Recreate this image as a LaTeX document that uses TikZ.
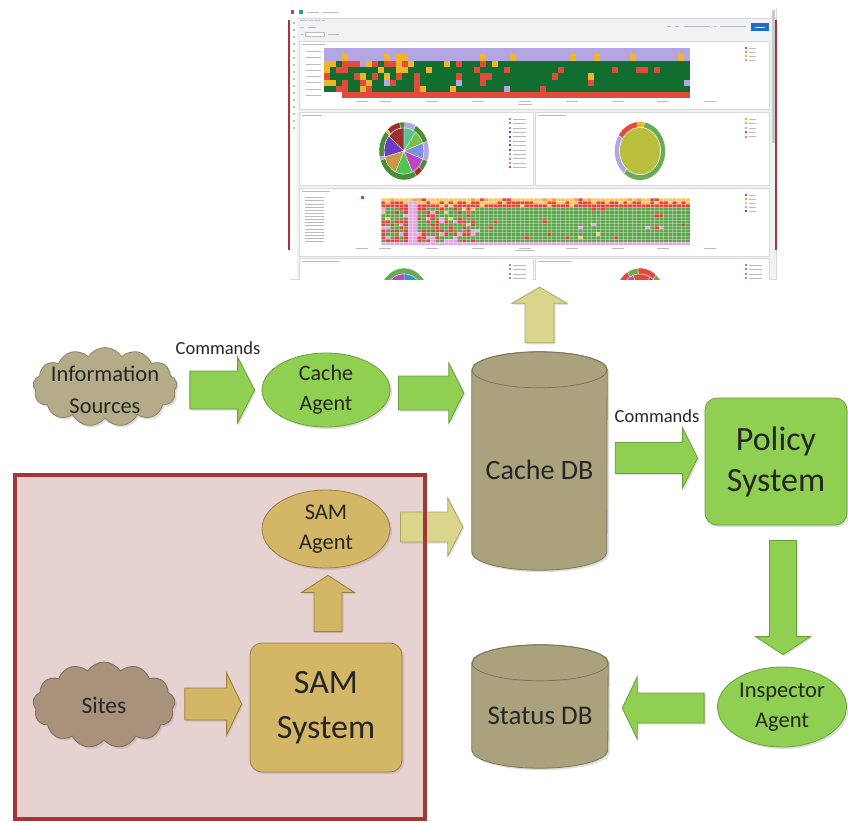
\documentclass[tikz,border=0pt]{standalone}
\usepackage{fontspec}
\setmainfont{Carlito}
\usetikzlibrary{shapes.symbols,shapes.geometric,calc,shadows}

\definecolor{gfill}{HTML}{8FCF52}
\definecolor{gline}{HTML}{6E9E3E}
\definecolor{cylfill}{HTML}{A9A27D}
\definecolor{cylline}{HTML}{7C7559}
\definecolor{infofill}{HTML}{B4AC88}
\definecolor{infoline}{HTML}{8A8266}
\definecolor{sitesfill}{HTML}{A8927C}
\definecolor{sitesline}{HTML}{7E6B5A}
\definecolor{samfill}{HTML}{D3B666}
\definecolor{samline}{HTML}{9A8042}
\definecolor{palefill}{HTML}{D9D68C}
\definecolor{paleline}{HTML}{A9A663}
\definecolor{pinkbg}{HTML}{E7D2D2}
\definecolor{redbox}{HTML}{A33737}
\definecolor{txt}{HTML}{262626}
\definecolor{dashbg}{HTML}{F1F2F4}
\definecolor{dashedge}{HTML}{D8D9DC}
\definecolor{txtgray}{HTML}{B8BBC0}
\definecolor{kibred}{HTML}{D6336C}
\definecolor{kibteal}{HTML}{20A39E}
\definecolor{kibblue}{HTML}{1E6EC8}
\definecolor{scrollc}{HTML}{C9CACC}
\definecolor{hlav}{HTML}{B3A6E3}
\definecolor{hdg}{HTML}{116E2F}
\definecolor{hred}{HTML}{E24B3B}
\definecolor{hyel}{HTML}{F0B429}
\definecolor{horg}{HTML}{F08C3A}
\definecolor{h2green}{HTML}{5EA64C}
\definecolor{h2red}{HTML}{E0473A}
\definecolor{h2yel}{HTML}{F5C76A}
\definecolor{h2org}{HTML}{F0A050}
\definecolor{h2pink}{HTML}{E7A3E6}
\definecolor{pteal}{HTML}{55C490}
\definecolor{plgreen}{HTML}{78C24A}
\definecolor{pblue}{HTML}{7B8FE0}
\definecolor{pmag}{HTML}{C044C4}
\definecolor{pgreen}{HTML}{52C452}
\definecolor{ptan}{HTML}{C89A48}
\definecolor{ppurple}{HTML}{6B3CC4}
\definecolor{pdred}{HTML}{9E2F2F}
\definecolor{pring}{HTML}{4B8B3B}
\definecolor{polive}{HTML}{B9BF3C}
\definecolor{pgring}{HTML}{6AAA55}
\definecolor{pcblue}{HTML}{3A8FD8}

\newcommand\dslice[4]{\filldraw[fill=#1,draw=white,line width=0.3pt] (0,0) -- (#2:#4) arc[start angle=#2,end angle=#3,radius=#4] -- cycle;}
\newcommand\dring[5]{\filldraw[fill=#1,draw=white,line width=0.3pt] (#2:#5) arc[start angle=#2,end angle=#3,radius=#5] -- (#3:#4) arc[start angle=#3,end angle=#2,radius=#4] -- cycle;}
% block arrow: #1 style, #2 tail coordinate, #3 tip coordinate, #4 shaft half width, #5 head half width, #6 head length
\newcommand\barrow[6]{%
  \coordinate (bab) at ($(#3)!#6pt!(#2)$);
  \draw[#1] ($(#2)!#4pt!90:(#3)$) -- ($(bab)!#4pt!90:(#3)$) -- ($(bab)!#5pt!90:(#3)$) -- (#3)
    -- ($(bab)!#5pt!-90:(#3)$) -- ($(bab)!#4pt!-90:(#3)$) -- ($(#2)!#4pt!-90:(#3)$) -- cycle;}

\tikzset{
  blockarrow/.style={line width=0.8pt, drop shadow={shadow xshift=1.5pt,shadow yshift=-1.5pt,opacity=0.25}},
  greenarrow/.style={blockarrow, fill=gfill, draw=gline},
  palearrow/.style={blockarrow, fill=palefill, draw=paleline},
  goldarrow/.style={blockarrow, fill=samfill, draw=samline},
  shad/.style={drop shadow={shadow xshift=2pt,shadow yshift=-2pt,opacity=0.25}},
  cloudshape/.style={cloud, cloud puffs=13, cloud puff arc=115, cloud ignores aspect,
    minimum width=144pt, minimum height=79pt, line width=0.8pt, shad, inner sep=0pt},
  lbl/.style={text=txt, align=center, inner sep=0pt},
  gellipse/.style={ellipse, fill=gfill, draw=gline, line width=0.8pt, shad, text=txt, align=center, inner sep=0pt},
  gbox/.style={rectangle, rounded corners=12pt, line width=0.8pt, shad, text=txt, align=center, inner sep=0pt},
  cylnode/.style={rectangle, inner sep=0pt, text=txt},
  cylbody/.style={fill=cylfill, draw=cylline, line width=0.8pt, shad},
  txtline/.style={draw=txtgray, line width=0.8pt},
  panel/.style={fill=white, draw=dashedge, line width=0.4pt},
}

\begin{document}
\begin{tikzpicture}[x=1pt,y=-1pt]
\useasboundingbox (0,0) rectangle (848,822);
\fill[white] (0,0) rectangle (848,822);

% ---------------- SAM region (fill) ----------------
\node[fill=pinkbg, minimum width=410pt, minimum height=344pt, inner sep=0pt] (region) at (220,647) {};

% ---------------- dashboard screenshot ----------------
\node[draw=dashedge, fill=dashbg, line width=0.5pt, minimum width=486pt, minimum height=271pt, inner sep=0pt] (dash) at (533,143.5) {};
\begin{scope}
\clip (290,8) rectangle (776,279);
\fill[white] (290,8) rectangle (776,18);
\draw[dashedge, line width=0.4pt] (290,18) -- (776,18);
\fill[white] (290,18) rectangle (297,279);
\fill[kibred] (291,10) rectangle (294,14);
\fill[kibteal] (298.5,10) rectangle (302.5,14);
\draw[txtline] (307,12) -- (319,12) (322,12) -- (338,12);
\draw[txtline] (300,20) -- (307,20) (309,20) -- (313,20) (315,20) -- (320,20) (322,20) -- (325,20);
\draw[txtline] (300,27) -- (304,27) (308,27) -- (316,27);
\draw[txtline] (301,34) -- (303,34) (328,34) -- (339,34);
\draw[draw=txtgray, fill=white, line width=0.4pt] (305,32) rectangle (324,36);
\draw[txtline] (667,26) -- (671,26) (675,26) -- (679,26) (684,26) -- (710,26) (714,26) -- (716,26) (720,26) -- (746,26);
\fill[kibblue] (751,23) rectangle (769,31);
\draw[white, line width=0.6pt] (755,27) -- (765,27);
\foreach \yy in {22,29,...,127} \fill[txtgray] (292.5,\yy) rectangle +(2,2);
\fill[scrollc] (772,10) rectangle (775,143);
\foreach \pa/\pb/\pc/\pd in {299/41/769/109, 299/112/533/185, 535/112/769/185, 299/188/769/256, 299/258/533/284, 535/258/769/284}
  \draw[panel] (\pa,\pb) rectangle (\pc,\pd);
\draw[txtline] (302,44.5) -- (325,44.5) (302,115.5) -- (322,115.5) (538,115.5) -- (566,115.5)
  (302,191) -- (330,191) (302,261) -- (340,261) (538,261) -- (572,261);

% heatmap 1
\fill[hlav] (324,48) rectangle (690,60.6);
\fill[hdg] (324,60.6) rectangle (690,92.1);
\fill[hred] (342,92.1) rectangle (690,98.4);
\pgfmathsetseed{11}
\foreach \i in {0,...,60}{
  \foreach \r in {1,...,6}{
    \pgfmathsetmacro\hpr{rnd}
    \pgfmathsetmacro\hq{rnd}
    \pgfmathsetmacro\hlim{\r==1 ? 0.28 : (\i<17 ? 0.42 : (\i<28 ? 0.12 : 0.05))}
    \pgfmathsetmacro\hsel{\r==1 ? 2 : (\hq<0.55 ? 1 : (\hq<0.85 ? 2 : 3))}
    \pgfmathtruncatemacro\hon{\hpr<\hlim ? 1 : 0}
    \pgfmathtruncatemacro\hcol{\hsel}
    \ifnum\hon=1
      \ifnum\hcol=1 \fill[hred] ({324+6*\i},{48+6.3*\r}) rectangle +(6,6.3);\fi
      \ifnum\hcol=2 \fill[hyel] ({324+6*\i},{48+6.3*\r}) rectangle +(6,6.3);\fi
      \ifnum\hcol=3 \fill[hlav] ({324+6*\i},{48+6.3*\r}) rectangle +(6,6.3);\fi
    \fi
  }
}
\foreach \r in {0,...,7} \draw[txtline, line width=0.6pt] (306,{51.2+6.3*\r}) -- (321,{51.2+6.3*\r});
\foreach \xx in {362,385,432,478,525,572,618,663,710} \draw[txtline, line width=0.6pt] (\xx-6,101.5) -- (\xx+6,101.5);
\draw[txtline, line width=0.6pt] (518,104.5) -- (532,104.5);
\foreach \hc/\yy in {hred/47, horg/51, hyel/55, hlav/59}{
  \fill[\hc] (745,\yy) rectangle +(2,2);
  \draw[txtline, line width=0.6pt] (749,\yy+1) -- (756,\yy+1);
}

% heatmap 2
\fill[h2green] (381,198) rectangle (690,245);
\fill[h2yel] (381,198) rectangle (690,201.1);
\fill[h2red] (381,204.3) rectangle (690,207.4);
\fill[h2pink] (381,241.9) rectangle (690,245);
\foreach \i in {0,...,68}{
  \foreach \r in {0,...,13}{
    \pgfmathsetmacro\hpr{rnd}
    \pgfmathsetmacro\hq{rnd}
    \pgfmathtruncatemacro\hcol{\r==0 ? (\hpr<0.25 ? (\hq<0.5 ? 1 : 4) : 0) :
       (\r==1 ? (\hpr<0.5 ? 1 : 2) :
       (\r==2 ? (\hpr<0.15 ? 2 : 0) :
       (\hpr<(\i<21 ? 0.5 : (\i<40 ? 0.06 : 0.03)) ? (\hq<0.6 ? 1 : (\hq<0.9 ? 3 : 2)) : 0)))}
    \ifnum\hcol=1 \fill[h2red] ({381+4.478*\i},{198+3.133*\r}) rectangle +(4.478,3.133);\fi
    \ifnum\hcol=2 \fill[h2yel] ({381+4.478*\i},{198+3.133*\r}) rectangle +(4.478,3.133);\fi
    \ifnum\hcol=3 \fill[h2pink] ({381+4.478*\i},{198+3.133*\r}) rectangle +(4.478,3.133);\fi
    \ifnum\hcol=4 \fill[h2org] ({381+4.478*\i},{198+3.133*\r}) rectangle +(4.478,3.133);\fi
  }
}
\fill[h2pink] (408,201) rectangle (417,242);
\foreach \i in {0,...,69} \draw[white, opacity=0.35, line width=0.2pt] ({381+4.478*\i},198) -- ++(0,47);
\foreach \r in {0,...,15} \draw[white, opacity=0.35, line width=0.2pt] (381,{198+3.133*\r}) -- ++(309,0);
\fill[h2red] (361,196) rectangle (364,199);
\foreach \r in {0,...,14} \draw[txtline, line width=0.5pt] (305,{197.5+3.133*\r}) -- (324,{197.5+3.133*\r});
\foreach \xx in {362,385,432,478,525,572,618,663,710} \draw[txtline, line width=0.6pt] (\xx-6,248) -- (\xx+6,248);
\draw[txtline, line width=0.6pt] (515,250.5) -- (535,250.5);
\foreach \hc/\yy in {h2red/194, h2org/198, h2yel/202, hlav/206, ppurple/210}{
  \fill[\hc] (745,\yy) rectangle +(2,2);
  \draw[txtline, line width=0.6pt] (749,\yy+1) -- (756,\yy+1);
}

% pie (left)
\begin{scope}[shift={(404,151)}, yscale=1.16]
  \dslice{pdred}{90}{140}{20pt}
  \dslice{ppurple}{140}{195}{20pt}
  \dslice{ptan}{195}{245}{20pt}
  \dslice{pgreen}{245}{295}{20pt}
  \dslice{pmag}{295}{340}{20pt}
  \dslice{pblue}{340}{380}{20pt}
  \dslice{plgreen}{20}{55}{20pt}
  \dslice{pteal}{55}{90}{20pt}
  \dring{pring}{-60}{300}{20pt}{25pt}
  \dring{hlav}{-20}{20}{20pt}{25pt}
  \dring{pdred}{300}{318}{20pt}{25pt}
  \dring{hlav}{62}{88}{20pt}{25pt}
  \dring{pdred}{100}{132}{20pt}{25pt}
  \dring{hyel}{132}{138}{20pt}{25pt}
  \dring{hlav}{192}{199}{20pt}{25pt}
\end{scope}
\foreach \hc [count=\k from 0] in {pblue,pblue,pblue,ppurple,ppurple,pblue,ppurple,ppurple,pblue,pgreen,horg,hred}{
  \fill[\hc] (509,{118+4.4*\k}) rectangle +(2,2);
  \draw[txtline, line width=0.6pt] (513,{119+4.4*\k}) -- (526,{119+4.4*\k});
}
% donut (right)
\begin{scope}[shift={(640,151)}, yscale=1.15]
  \dring{pgring}{-130}{80}{20.5pt}{25.5pt}
  \dring{hyel}{80}{96}{20.5pt}{25.5pt}
  \dring{hred}{96}{148}{20.5pt}{25.5pt}
  \dring{hlav}{148}{230}{20.5pt}{25.5pt}
  \filldraw[fill=polive, draw=white, line width=0.5pt] (0,0) circle[radius=20.5pt];
\end{scope}
\foreach \hc [count=\k from 0] in {hyel,polive,hlav,hred,horg}{
  \fill[\hc] (745,{118+4.4*\k}) rectangle +(2,2);
  \draw[txtline, line width=0.6pt] (749,{119+4.4*\k}) -- (756,{119+4.4*\k});
}
% bottom pies (partly visible)
\begin{scope}
  \clip (299,258) rectangle (769,279);
  \begin{scope}[shift={(404,297)}, yscale=1.16]
    \dslice{pcblue}{20}{90}{20pt}
    \dslice{pmag}{90}{160}{20pt}
    \dslice{ppurple}{160}{200}{20pt}
    \dring{pgring}{0}{180}{20pt}{25pt}
  \end{scope}
  \begin{scope}[shift={(640,297)}, yscale=1.16]
    \dslice{hred}{60}{110}{20pt}
    \dslice{ppurple}{20}{60}{20pt}
    \dslice{pmag}{110}{160}{20pt}
    \dslice{pcblue}{0}{20}{20pt}
    \dring{pgring}{0}{50}{20pt}{25pt}
    \dring{hred}{50}{95}{20pt}{25pt}
    \dring{pgring}{95}{120}{20pt}{25pt}
    \dring{hred}{120}{150}{20pt}{25pt}
    \dring{hlav}{150}{180}{20pt}{25pt}
  \end{scope}
  \foreach \k in {0,...,3}{
    \fill[pblue] (509,{264+4.4*\k}) rectangle +(2,2);
    \fill[pblue] (745,{264+4.4*\k}) rectangle +(2,2);
    \draw[txtline, line width=0.6pt] (513,{265+4.4*\k}) -- (526,{265+4.4*\k}) (749,{265+4.4*\k}) -- (762,{265+4.4*\k});
  }
\end{scope}
\end{scope}
\draw[redbox, line width=1.5pt] (289,20) -- (289,250);
\draw[redbox, line width=1.5pt] (776,20) -- (776,250);

% ---------------- main nodes ----------------
\node[cloudshape, fill=infofill, draw=infoline] (info) at (105,387) {};
\node[lbl, font=\fontsize{22.5}{32}\selectfont] (infotxt) at (105,390) {Information\\Sources};

\node[gellipse, minimum width=128pt, minimum height=74pt, font=\fontsize{22}{30}\selectfont] (cagent) at (326,390) {Cache\\Agent};

\node[cylnode, minimum width=135pt, minimum height=200pt] (cachedb) at (539.5,470) {};
\path[cylbody] (cachedb.north west) -- ($(cachedb.south west)+(0,-18)$)
  arc[start angle=180, end angle=360, x radius=67.5pt, y radius=18pt]
  -- (cachedb.north east) arc[start angle=0, end angle=180, x radius=67.5pt, y radius=18pt] -- cycle;
\draw[cylline, line width=0.8pt] (cachedb.north) ellipse[x radius=67.5pt, y radius=18pt];
\node[cylnode, font=\fontsize{28}{30}\selectfont] (cachedbtxt) at (cachedb.center) {Cache DB};

\node[gbox, fill=gfill, draw=gline, minimum width=142pt, minimum height=127pt, font=\fontsize{34}{41}\selectfont] (policy) at (776,461.5) {Policy\\System};

\node[gellipse, minimum width=129pt, minimum height=80pt, font=\fontsize{22.5}{30}\selectfont] (inspector) at (782,707) {Inspector\\Agent};

\node[cylnode, minimum width=136pt, minimum height=105pt] (statusdb) at (540,715.5) {};
\path[cylbody] (statusdb.north west) -- ($(statusdb.south west)+(0,-18)$)
  arc[start angle=180, end angle=360, x radius=68pt, y radius=18pt]
  -- (statusdb.north east) arc[start angle=0, end angle=180, x radius=68pt, y radius=18pt] -- cycle;
\draw[cylline, line width=0.8pt] (statusdb.north) ellipse[x radius=68pt, y radius=18pt];
\node[cylnode, font=\fontsize{27}{30}\selectfont] (statusdbtxt) at (statusdb.center) {Status DB};

\node[ellipse, fill=samfill, draw=samline, line width=0.8pt, shad, text=txt, align=center, inner sep=0pt,
  minimum width=128pt, minimum height=78pt, font=\fontsize{22.5}{30}\selectfont] (samagent) at (326,529) {SAM\\Agent};

\node[gbox, fill=samfill, draw=samline, minimum width=152pt, minimum height=129pt, font=\fontsize{34}{45}\selectfont] (samsys) at (326,707.5) {SAM\\System};

\node[cloudshape, fill=sitesfill, draw=sitesline, minimum width=142pt, minimum height=86pt] (sites) at (104,705) {};
\node[lbl, font=\fontsize{23.5}{25}\selectfont] (sitestxt) at (sites.center) {Sites};

\node[lbl, font=\fontsize{18.5}{20}\selectfont] (cmd1) at (218,348) {Commands};
\node[lbl, font=\fontsize{18.5}{20}\selectfont] (cmd2) at (657,416) {Commands};

% ---------------- block arrows ----------------
\coordinate (a1s) at ($(info.east)+(13,3)$);
\coordinate (a1e) at ($(cagent.west)+(-7,0)$);
\barrow{greenarrow}{a1s}{a1e}{19}{33}{17}

\coordinate (a2s) at ($(cagent.east)+(8,3)$);
\coordinate (a2e) at ($(cachedb.west|-a2s)+(-8,0)$);
\barrow{greenarrow}{a2s}{a2e}{17}{30}{15}

\coordinate (a3s) at ($(cachedb.north)+(0,-27)$);
\coordinate (a3e) at ($(a3s|-dash.south)+(0,8)$);
\barrow{palearrow}{a3s}{a3e}{14.5}{27.5}{16}

\coordinate (a4s) at ($(cachedb.east)+(8,-12)$);
\coordinate (a4e) at ($(policy.west|-a4s)+(-7,0)$);
\barrow{greenarrow}{a4s}{a4e}{15.5}{30}{15}

\coordinate (a5s) at ($(policy.south)+(7,15)$);
\coordinate (a5e) at ($(inspector.north)+(1,-12)$);
\barrow{greenarrow}{a5s}{a5e}{13.5}{27.5}{18}

\coordinate (a6s) at ($(inspector.west)+(-13,1)$);
\coordinate (a6e) at ($(statusdb.east|-a6s)+(14,0)$);
\barrow{greenarrow}{a6s}{a6e}{15}{31}{15}

\coordinate (a7s) at ($(samagent.east)+(10,-2)$);
\coordinate (a7e) at ($(cachedb.west|-a7s)+(-9,0)$);
\barrow{palearrow}{a7s}{a7e}{15}{29}{15}

\coordinate (a8s) at ($(samsys.north)+(2,-11)$);
\coordinate (a8e) at ($(samagent.south)+(2,7)$);
\barrow{goldarrow}{a8s}{a8e}{14}{26.5}{17}

\coordinate (a9s) at ($(sites.east)+(10,-1)$);
\coordinate (a9e) at ($(samsys.west|-a9s)+(-8,0)$);
\barrow{goldarrow}{a9s}{a9e}{16}{31}{15}

\draw[redbox, line width=4pt] (region.north west) rectangle (region.south east);
\end{tikzpicture}
\end{document}
